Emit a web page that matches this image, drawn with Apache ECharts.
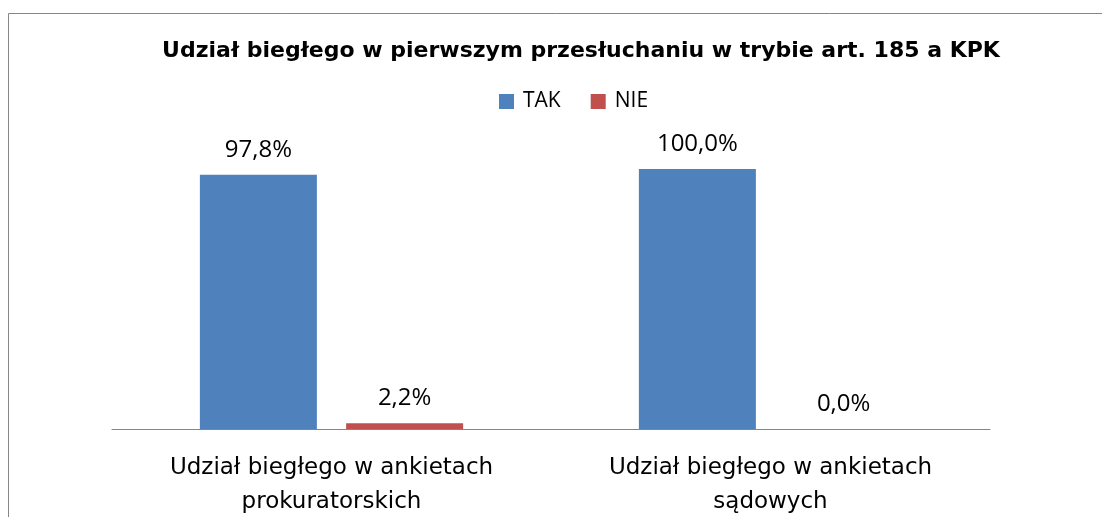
<!DOCTYPE html>
<html>
<head>
<meta charset="utf-8">
<script src="https://cdn.jsdelivr.net/npm/echarts@6/dist/echarts.min.js"></script>
<style>
  html, body { margin: 0; padding: 0; background: #fff; }
  #chart { width: 1102px; height: 517px; }
</style>
</head>
<body>
<div id="chart"></div>
<script>
// dane
const categories = ['Udział biegłego w ankietach\nprokuratorskich', 'Udział biegłego w ankietach\nsądowych'];
const takValues = [97.8, 100.0];
const nieValues = [2.2, 0.0];

const chart = echarts.init(document.getElementById('chart'));

const labelFmt = p => p.value.toFixed(1).replace('.', ',') + '%';

const option = {
  animation: false,
  backgroundColor: '#fff',
  title: {
    text: 'Udział biegłego w pierwszym przesłuchaniu w trybie art. 185 a KPK',
    left: 576,
    textAlign: 'center',
    top: 35,
    textStyle: {
      fontFamily: 'DejaVu Sans',
      fontWeight: 'bold',
      fontSize: 22,
      color: '#000'
    }
  },
  legend: {
    data: ['TAK', 'NIE'],
    top: 86,
    left: 494,
    itemWidth: 15,
    itemHeight: 15,
    itemGap: 30,
    icon: 'rect',
    textStyle: {
      fontFamily: 'Open Sans',
      fontSize: 21,
      color: '#000',
      padding: [0, 0, 0, 4]
    }
  },
  grid: {
    left: 112,
    right: 112,
    top: 169,
    bottom: 88,
    outerBoundsMode: 'none'
  },
  xAxis: {
    type: 'category',
    data: categories,
    axisLine: { lineStyle: { color: '#868686', width: 1 } },
    axisTick: { show: false },
    axisLabel: {
      margin: 22,
      fontFamily: 'DejaVu Sans',
      fontSize: 23,
      lineHeight: 34,
      color: '#000'
    }
  },
  yAxis: {
    type: 'value',
    min: 0,
    max: 100,
    show: false
  },
  series: [
    {
      name: 'TAK',
      type: 'bar',
      data: takValues,
      barWidth: 117,
      barGap: '25%',
      itemStyle: { color: '#4F81BD' },
      label: {
        show: true,
        position: 'top',
        distance: 13,
        formatter: labelFmt,
        fontFamily: 'Open Sans',
        fontSize: 24,
        color: '#000'
      }
    },
    {
      name: 'NIE',
      type: 'bar',
      data: nieValues,
      barWidth: 117,
      itemStyle: { color: '#C0504D' },
      label: {
        show: true,
        position: 'top',
        distance: 13,
        formatter: labelFmt,
        fontFamily: 'Open Sans',
        fontSize: 24,
        color: '#000'
      }
    }
  ],
  graphic: [
    {
      type: 'rect',
      shape: { x: 8.5, y: 13.5, width: 1200, height: 600 },
      style: { fill: null, stroke: '#868686', lineWidth: 1 },
      silent: true
    }
  ]
};

chart.setOption(option);
</script>
</body>
</html>
